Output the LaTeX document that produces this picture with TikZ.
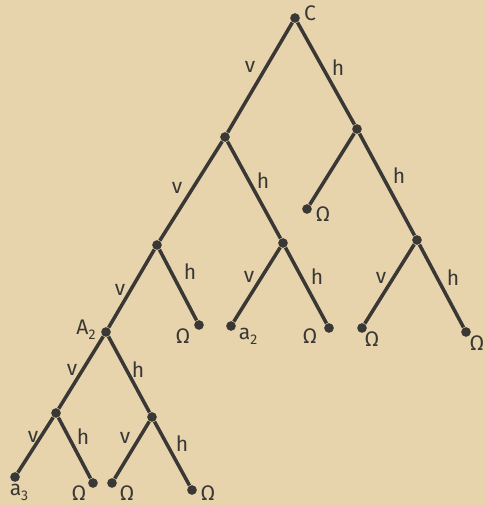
\documentclass[tikz,border=0pt]{standalone}
\usepackage{fontspec}
\setmainfont{Fira Sans}
\usepackage{tikz}
\definecolor{paper}{HTML}{E7D4AC}
\definecolor{ink}{HTML}{3A3835}
\tikzset{
  knot/.style={circle,fill=ink,inner sep=0pt,minimum size=5.5pt},
  branch/.style={draw=ink,line width=2pt},
  lab/.style={font=\fontsize{12}{13}\selectfont,text=ink,inner sep=0pt}
}
\newcommand{\sub}[1]{\raisebox{-0.45ex}{\fontsize{8}{9}\selectfont #1}}
\begin{document}
\begin{tikzpicture}[x=0.02cm,y=-0.02cm]
\clip (0,0) rectangle (486,505);
\fill[paper] (0,0) rectangle (486,505);
% inner knots
\node[knot] (c) at (295,18) {};
\node[knot] (l) at (225,137) {};
\node[knot] (r) at (357,129) {};
\node[knot] (ll) at (157,245) {};
\node[knot] (lr) at (283,243) {};
\node[knot] (rr) at (417,240) {};
\node[knot] (a2) at (106,332) {};
\node[knot] (a2l) at (56,413) {};
\node[knot] (a2r) at (152,417) {};
% leaves
\node[knot] (rl) at (307,209) {};
\node[knot] (llr) at (199,325) {};
\node[knot] (lrl) at (231,326) {};
\node[knot] (lrr) at (329,328) {};
\node[knot] (rrl) at (362,328) {};
\node[knot] (rrr) at (466,332) {};
\node[knot] (a2ll) at (15,477) {};
\node[knot] (a2lr) at (93,483) {};
\node[knot] (a2rl) at (112,483) {};
\node[knot] (a2rr) at (192,490) {};
% branches
\foreach \u/\w in {c/l,c/r,l/ll,l/lr,r/rl,r/rr,ll/a2,ll/llr,lr/lrl,lr/lrr,
  rr/rrl,rr/rrr,a2/a2l,a2/a2r,a2l/a2ll,a2l/a2lr,a2r/a2rl,a2r/a2rr}
  \draw[branch] (\u) -- (\w);
% branch letters
\foreach \x/\y/\t in {250/67/v,338/68/h,177/188/v,263/181/h,399/176/h,
  120/290/v,190/272/h,249/277/v,317/277/h,381/278/v,453/278/h,
  72/370/v,138/370/h,33/437/v,83/437/h,125/438/v,182/444/h}
  \node[lab] at (\x,\y) {\t};
% knot names
\node[lab] (cname) at (310,13) {C};
\node[lab] (a2name) at (86,330) {A\sub{2}};
\node[lab] (rlname) at (323,214) {Ω};
\node[lab] (llrname) at (183,336) {Ω};
\node[lab] (lrlname) at (248,336) {a\sub{2}};
\node[lab] (lrrname) at (310,336) {Ω};
\node[lab] (rrlname) at (372,339) {Ω};
\node[lab] (rrrname) at (477,343) {Ω};
\node[lab] (a2llname) at (19,492) {a\sub{3}};
\node[lab] (a2lrname) at (79,493) {Ω};
\node[lab] (a2rlname) at (127,493) {Ω};
\node[lab] (a2rrname) at (208,493) {Ω};
\end{tikzpicture}
\end{document}
